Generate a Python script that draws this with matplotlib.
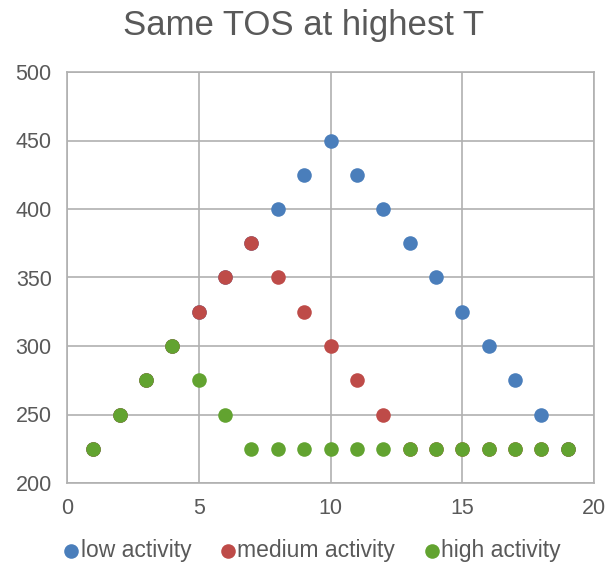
import matplotlib.pyplot as plt

plt.rcParams['font.family'] = ['Liberation Sans', 'DejaVu Sans']

# data
x = list(range(1, 20))
low = [225, 250, 275, 300, 325, 350, 375, 400, 425, 450,
       425, 400, 375, 350, 325, 300, 275, 250, 225]
medium = [225, 250, 275, 300, 325, 350, 375, 350, 325, 300,
          275, 250, 225, 225, 225, 225, 225, 225, 225]
high = [225, 250, 275, 300, 275, 250, 225, 225, 225, 225,
        225, 225, 225, 225, 225, 225, 225, 225, 225]

names = ['low activity', 'medium activity', 'high activity']
colors = ['#4a7ebb', '#be4b48', '#62a330']

fig = plt.figure(figsize=(6.07, 5.63), dpi=100)
ax = fig.add_axes([67 / 607, 1 - 483 / 563, (594 - 67) / 607, (483 - 72) / 563])

for ys, name, c in zip([low, medium, high], names, colors):
    ax.scatter(x, ys, s=110, color=c, label=name, zorder=3, linewidths=0)

ax.set_xlim(0, 20)
ax.set_ylim(200, 500)
ax.set_xticks(range(0, 21, 5))
ax.set_yticks(range(200, 501, 50))
ax.grid(True, color='#b0b0b0', linewidth=1.2)
for s in ax.spines.values():
    s.set_color('#b0b0b0')
    s.set_linewidth(1.2)
ax.tick_params(length=0, labelsize=15.5, labelcolor='#595959', pad=11)

fig.text(0.5, 1 - 25 / 563, 'Same TOS at highest T', ha='center', va='center',
         fontsize=25, color='#595959')

fig.legend(loc='center', bbox_to_anchor=(0.513, 1 - 551 / 563), ncol=3, frameon=False,
           fontsize=16.5, labelcolor='#595959', handlelength=0.8, handletextpad=0.0,
           columnspacing=1.2, markerscale=1.0, borderaxespad=0)

fig.savefig('out.png', dpi=100)
